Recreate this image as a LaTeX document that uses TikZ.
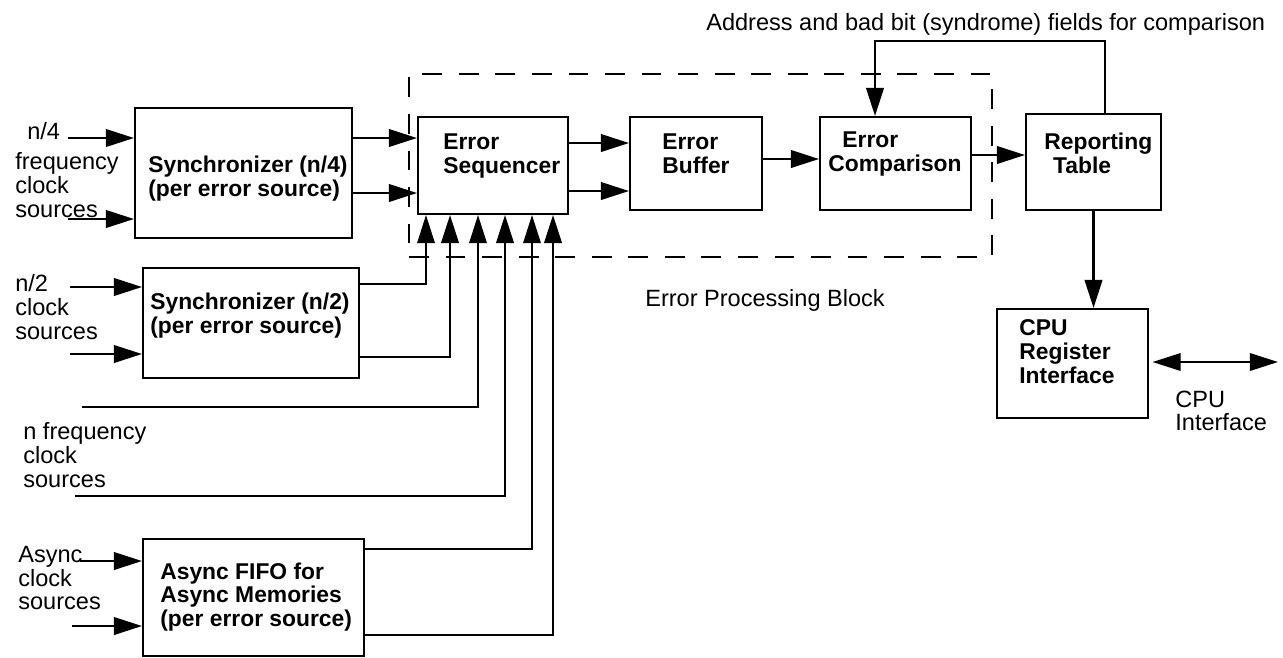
\documentclass[tikz,border=0pt]{standalone}
\usepackage{fontspec}
\setmainfont{Liberation Sans}
\usetikzlibrary{arrows.meta,positioning,calc}

\begin{document}
\begin{tikzpicture}[x=0.02cm,y=-0.02cm,
  every node/.style={inner sep=0pt, font=\fontsize{13.4pt}{13.5pt}\selectfont},
  blk/.style={draw, line width=1.2pt},
  dashbox/.style={draw, line width=1.2pt, dash pattern=on 11.3pt off 9.5pt},
  btxt/.style={align=left, anchor=west, font=\fontsize{13pt}{13.6pt}\selectfont\bfseries},
  ntxt/.style={align=left, anchor=west},
  wire/.style={line width=1.3pt},
  fine/.style={line width=0.9pt},
  tip/.tip={Triangle[length=16pt,width=10pt]},
  arr/.style={wire, -tip}]
\useasboundingbox (0,0) rectangle (1283,657);

% blocks
\node[blk, minimum width=4.34cm, minimum height=2.6cm] (syncq) at (243.5,173) {};
\node[blk, minimum width=4.32cm, minimum height=2.2cm] (synch) at (251,323) {};
\node[blk, minimum width=4.42cm, minimum height=2.34cm] (afifo) at (253.5,597.5) {};
\node[blk, minimum width=3cm, minimum height=1.94cm] (seq) at (493,165.5) {};
\node[blk, minimum width=2.64cm, minimum height=1.86cm] (buf) at (696,163.5) {};
\node[blk, minimum width=3.02cm, minimum height=1.86cm] (cmp) at (895.5,163.5) {};
\node[blk, minimum width=2.7cm, minimum height=1.92cm] (rep) at (1093.5,162) {};
\node[blk, minimum width=3.02cm, minimum height=2.18cm] (cpu) at (1072.5,363.5) {};
\node[dashbox, minimum width=11.66cm, minimum height=3.66cm] (epb) at (700.5,165.5) {};

% block texts
\node[btxt] (syncqtxt) at (148,178.5) {Synchronizer (n/4)\\(per error source)};
\node[btxt] (synchtxt) at (150,315.5) {Synchronizer (n/2)\\(per error source)};
\node[btxt] (afifotxt) at (160,597) {Async FIFO for\\Async Memories\\(per error source)};
\node[btxt] (seqtxt) at (443,156) {Error\\Sequencer};
\node[btxt] (buftxt) at (662,154) {Error\\Buffer};
\node[btxt] (cmptxt) at (828,154) {\hspace*{8pt}Error\\Comparison};
\node[btxt] (reptxt) at (1044,153) {Reporting\\\hspace*{5pt}Table};
\node[btxt] (cputxt) at (1019,352) {CPU\\Register\\Interface};

% plain labels
\node[anchor=base west] (nq) at (27,139) {n/4};
\node[ntxt] (nqsrc) at (15,185) {frequency\\clock\\sources};
\node[ntxt] (nhsrc) at (15,307) {n/2\\clock\\sources};
\node[ntxt] (nsrc) at (23,455) {n frequency\\clock\\sources};
\node[ntxt] (asrc) at (18,578) {Async\\clock\\sources};
\node[anchor=base west] (epblbl) at (645,306) {Error Processing Block};
\node[anchor=base west] (fbklbl) at (706,30) {Address and bad bit (syndrome) fields for comparison};
\node[ntxt] (cpulbl) at (1175,411) {CPU\\Interface};

% free ends
\coordinate (iq1) at (68,138);
\coordinate (iq2) at (68,219);
\coordinate (ih1) at (70,287);
\coordinate (ih2) at (70,354);
\coordinate (in1) at (82,407);
\coordinate (in2) at (75,496);
\coordinate (ia1) at (80,561);
\coordinate (ia2) at (72,626);
\coordinate (cpuio) at (1278,362);

% clock source inputs
\draw[arr] (iq1) -- (iq1 -| syncq.west);
\draw[arr] (iq2) -- (iq2 -| syncq.west);
\draw[arr] (ih1) -- (ih1 -| synch.west);
\draw[arr] (ih2) -- (ih2 -| synch.west);
\draw[arr] (ia1) -- (ia1 -| afifo.west);
\draw[arr] (ia2) -- (ia2 -| afifo.west);

% processing chain
\draw[arr] (syncq.east |- 0,138) -- (seq.west |- 0,138);
\draw[arr] (syncq.east |- 0,193) -- (seq.west |- 0,193);
\draw[arr] (seq.east |- 0,143) -- (buf.west |- 0,143);
\draw[arr] (seq.east |- 0,191) -- (buf.west |- 0,191);
\draw[arr] (buf.east |- 0,159) -- (cmp.west |- 0,159);
\draw[arr] (cmp.east |- 0,155) -- (rep.west |- 0,155);
\draw[arr] (rep.north -| 1105,0) -- ++(0,-72) -| (cmp.north -| 875,0);
\draw[arr] (rep.south) -- (rep.south |- cpu.north);
\draw[fine, tip-tip] ([xshift=2pt]cpu.east |- 0,362) -- (cpuio);

% into the sequencer from below
\draw[arr, fine] (synch.east |- 0,284) -| (426,0 |- seq.south);
\draw[arr] (synch.east |- 0,357) -| (450,0 |- seq.south);
\draw[arr, fine] (in1) -| (478,0 |- seq.south);
\draw[arr] (in2) -| (505,0 |- seq.south);
\draw[arr, fine] (afifo.east |- 0,549) -| (532,0 |- seq.south);
\draw[arr] (afifo.east |- 0,635) -| (553,0 |- seq.south);
\end{tikzpicture}
\end{document}
